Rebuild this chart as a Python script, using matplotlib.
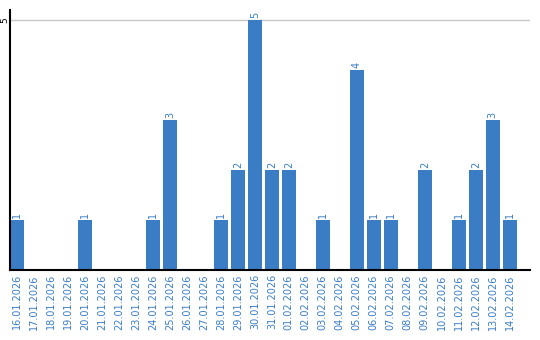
import matplotlib
matplotlib.use("Agg")
import matplotlib.pyplot as plt

dates = ["16.01.2026", "17.01.2026", "18.01.2026", "19.01.2026", "20.01.2026",
         "21.01.2026", "22.01.2026", "23.01.2026", "24.01.2026", "25.01.2026",
         "26.01.2026", "27.01.2026", "28.01.2026", "29.01.2026", "30.01.2026",
         "31.01.2026", "01.02.2026", "02.02.2026", "03.02.2026", "04.02.2026",
         "05.02.2026", "06.02.2026", "07.02.2026", "08.02.2026", "09.02.2026",
         "10.02.2026", "11.02.2026", "12.02.2026", "13.02.2026", "14.02.2026"]
values = [1, 0, 0, 0, 1, 0, 0, 0, 1, 3, 0, 0, 1, 2, 5, 2, 2, 0, 1, 0,
          4, 1, 1, 0, 2, 0, 1, 2, 3, 1]

blue = "#3a7dc4"
fig = plt.figure(figsize=(5.4, 3.4), dpi=100)
ax = fig.add_axes([10/540, 70/340, 520/540, 260/340])
w = 0.82
xs = list(range(len(values)))
ax.bar(xs, values, width=w, align="edge", color=blue, zorder=2)
for x, v in zip(xs, values):
    if v > 0:
        ax.text(x + w/2, v + 0.04, str(v), rotation=90, ha="center", va="bottom",
                color=blue, fontsize=7)
ax.set_xlim(0, 30.6)
ax.set_ylim(0, 5.2)
ax.set_xticks([x + w/2 for x in xs])
ax.set_xticklabels(dates, rotation=90, color=blue, fontsize=7)
ax.tick_params(axis="x", length=0, pad=3)
ax.set_yticks([5])
ax.set_yticklabels(["5"], rotation=90, fontsize=6.5, va="center")
ax.tick_params(axis="y", length=0, pad=0.5)
ax.axhline(5, color="#c8c8c8", lw=1, zorder=1)
for s in ["top", "right"]:
    ax.spines[s].set_visible(False)
ax.spines["left"].set_linewidth(1.5)
ax.spines["bottom"].set_linewidth(1.5)
fig.savefig("out.png", dpi=100)
